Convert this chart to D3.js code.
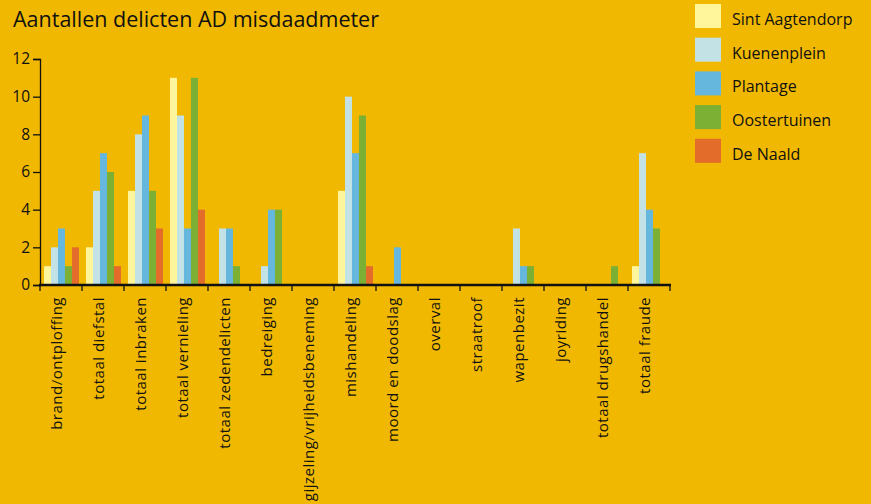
<!DOCTYPE html>
<html>
<head>
<meta charset="utf-8">
<script src="https://cdn.jsdelivr.net/npm/d3@7"></script>
<style>
  html, body { margin: 0; padding: 0; background: #F0B800; }
  svg { display: block; font-family: "Open Sans", "Noto Sans", sans-serif; }
</style>
</head>
<body>
<svg id="chart" width="871" height="504"></svg>
<script>
// Categories along the x axis.
const categories = [
  "brand/ontploffing", "totaal diefstal", "totaal inbraken", "totaal vernieling",
  "totaal zedendelicten", "bedreiging", "gijzeling/vrijheidsbeneming", "mishandeling",
  "moord en doodslag", "overval", "straatroof", "wapenbezit", "joyriding",
  "totaal drugshandel", "totaal fraude"
];

// One series per neighbourhood.
const seriesNames = ["Sint Aagtendorp", "Kuenenplein", "Plantage", "Oostertuinen", "De Naald"];
const seriesColors = ["#FFF59A", "#C3E2E6", "#66B7DD", "#7BB034", "#E46C2B"];

const sintAagtendorp = [1, 2, 5, 11, 0, 0, 0, 5, 0, 0, 0, 0, 0, 0, 1];
const kuenenplein    = [2, 5, 8, 9, 3, 1, 0, 10, 0, 0, 0, 3, 0, 0, 7];
const plantage       = [3, 7, 9, 3, 3, 4, 0, 7, 2, 0, 0, 1, 0, 0, 4];
const oostertuinen   = [1, 6, 5, 11, 1, 4, 0, 9, 0, 0, 0, 1, 0, 1, 3];
const deNaald        = [2, 1, 3, 4, 0, 0, 0, 1, 0, 0, 0, 0, 0, 0, 0];

const seriesValues = [sintAagtendorp, kuenenplein, plantage, oostertuinen, deNaald];
const yTicks = [0, 2, 4, 6, 8, 10, 12];

const svg = d3.select("#chart");

// plot area
const plot = {left: 40, right: 670, top: 59, bottom: 285};

const x = d3.scaleBand()
  .domain(categories)
  .range([plot.left, plot.right])
  .paddingInner(0).paddingOuter(0);

// bars are ~7px wide, a bit more room on the left of each group
const xInner = d3.scaleBand()
  .domain(seriesNames)
  .range([0, x.bandwidth()])
  .paddingOuter(0.5).paddingInner(0)
  .align(0.57);

const y = d3.scaleLinear()
  .domain([0, 12])
  .range([plot.bottom, plot.top]);

// title
svg.append("text")
  .attr("x", 13).attr("y", 27)
  .attr("font-size", 21.5)
  .attr("fill", "#111")
  .text("Aantallen delicten AD misdaadmeter");

// bars
const groups = svg.append("g").attr("class", "data")
  .selectAll("g")
  .data(categories)
  .join("g")
  .attr("transform", d => `translate(${x(d)},0)`);

groups.selectAll("rect")
  .data((c, i) => seriesNames.map((s, k) => ({series: s, k: k, value: seriesValues[k][i]})))
  .join("rect")
  .attr("x", d => xInner(d.series))
  .attr("width", xInner.bandwidth())
  .attr("y", d => y(d.value))
  .attr("height", d => y(0) - y(d.value))
  .attr("fill", d => seriesColors[d.k]);

// y axis
const yAxis = svg.append("g")
  .attr("transform", `translate(${plot.left},0)`)
  .call(d3.axisLeft(y).tickValues(yTicks).tickSize(7).tickPadding(3));
yAxis.select(".domain").attr("stroke", "#111").attr("stroke-width", 1.3);
yAxis.selectAll(".tick line").attr("stroke", "#111").attr("stroke-width", 1.3);
yAxis.selectAll(".tick text")
  .attr("font-size", 15.5)
  .attr("font-family", "Open Sans, sans-serif")
  .attr("fill", "#111");

// x axis: boundary ticks between categories
const xAxis = svg.append("g").attr("transform", `translate(0,${plot.bottom})`);
xAxis.append("line")
  .attr("x1", plot.left - 1).attr("x2", plot.right + 1)
  .attr("stroke", "#111").attr("stroke-width", 2.5);
xAxis.selectAll("line.tk")
  .data(categories.concat([null]))
  .join("line")
  .attr("class", "tk")
  .attr("x1", (d, i) => i < categories.length ? x(d) : plot.right)
  .attr("x2", (d, i) => i < categories.length ? x(d) : plot.right)
  .attr("y1", 0).attr("y2", 6)
  .attr("stroke", "#111").attr("stroke-width", 1.3);

xAxis.selectAll("text")
  .data(categories)
  .join("text")
  .attr("transform", d => `translate(${x(d) + x.bandwidth() / 2},12) rotate(-90)`)
  .attr("text-anchor", "end")
  .attr("dy", "0.05em")
  .attr("font-size", 15)
  .attr("letter-spacing", 0.5)
  .attr("fill", "#111")
  .text(d => d);

// legend
const legend = svg.append("g").attr("transform", "translate(695,4)");
const item = legend.selectAll("g")
  .data(seriesNames)
  .join("g")
  .attr("transform", (d, i) => `translate(0,${i * 33.7})`);
item.append("rect")
  .attr("width", 26).attr("height", 24)
  .attr("fill", (d, i) => seriesColors[i]);
item.append("text")
  .attr("x", 37).attr("y", 21)
  .attr("font-size", 16)
  .attr("fill", "#111")
  .text(d => d);
</script>
</body>
</html>
